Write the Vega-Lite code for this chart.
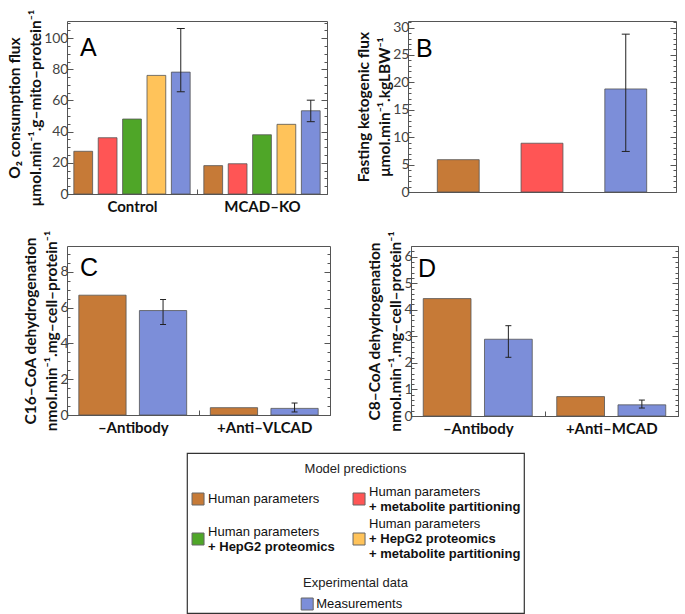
{
  "$schema": "https://vega.github.io/schema/vega-lite/v6.json",
  "padding": {"left": 7, "top": 8, "right": 0, "bottom": 0},
  "background": "white",
  "datasets": {
    "o2": [
      {"condition": "Control", "series": "Human parameters", "value": 27.4},
      {"condition": "Control", "series": "Human parameters + metabolite partitioning", "value": 36.1},
      {"condition": "Control", "series": "Human parameters + HepG2 proteomics", "value": 48.1},
      {"condition": "Control", "series": "Human parameters + HepG2 proteomics + metabolite partitioning", "value": 76.1},
      {"condition": "Control", "series": "Measurements", "value": 78.2, "lo": 65.6, "hi": 106.2},
      {"condition": "MCAD–KO", "series": "Human parameters", "value": 18.2},
      {"condition": "MCAD–KO", "series": "Human parameters + metabolite partitioning", "value": 19.4},
      {"condition": "MCAD–KO", "series": "Human parameters + HepG2 proteomics", "value": 38.0},
      {"condition": "MCAD–KO", "series": "Human parameters + HepG2 proteomics + metabolite partitioning", "value": 44.7},
      {"condition": "MCAD–KO", "series": "Measurements", "value": 53.4, "lo": 46.4, "hi": 60.2}
    ],
    "ketone": [
      {"series": "Human parameters", "value": 5.9},
      {"series": "Human parameters + metabolite partitioning", "value": 8.9},
      {"series": "Measurements", "value": 18.8, "lo": 7.4, "hi": 28.8}
    ],
    "c16": [
      {"condition": "–Antibody", "series": "Human parameters", "value": 6.70},
      {"condition": "–Antibody", "series": "Measurements", "value": 5.84, "lo": 5.06, "hi": 6.46},
      {"condition": "+Anti–VLCAD", "series": "Human parameters", "value": 0.41},
      {"condition": "+Anti–VLCAD", "series": "Measurements", "value": 0.37, "lo": 0.17, "hi": 0.67}
    ],
    "c8": [
      {"condition": "–Antibody", "series": "Human parameters", "value": 4.42},
      {"condition": "–Antibody", "series": "Measurements", "value": 2.89, "lo": 2.21, "hi": 3.40},
      {"condition": "+Anti–MCAD", "series": "Human parameters", "value": 0.73},
      {"condition": "+Anti–MCAD", "series": "Measurements", "value": 0.42, "lo": 0.30, "hi": 0.60}
    ],
    "key": [
      {"entry": "Model predictions", "role": "heading", "row": "h1"},
      {"entry": "Human parameters", "role": "model", "row": "r1", "col": "left", "base": ["Human parameters"], "additions": [""]},
      {"entry": "Human parameters + metabolite partitioning", "role": "model", "row": "r1", "col": "right", "base": ["Human parameters", ""], "additions": ["", "+ metabolite partitioning"]},
      {"entry": "Human parameters + HepG2 proteomics", "role": "model", "row": "r2", "col": "left", "base": ["Human parameters", ""], "additions": ["", "+ HepG2 proteomics"]},
      {"entry": "Human parameters + HepG2 proteomics + metabolite partitioning", "role": "model", "row": "r2", "col": "right", "base": ["Human parameters", "", ""], "additions": ["", "+ HepG2 proteomics", "+ metabolite partitioning"]},
      {"entry": "Experimental data", "role": "heading", "row": "h2"},
      {"entry": "Measurements", "role": "measurement", "row": "r3", "base": ["Measurements"], "additions": [""]}
    ]
  },
  "vconcat": [
    {
      "vconcat": [
        {
          "hconcat": [
            {
              "width": 260, "height": 173,
              "data": {"name": "o2"},
              "title": {"text": "A", "offset": -52, "dx": 13},
              "encoding": {
                "x": {"field": "condition", "type": "nominal", "title": null,
                  "scale": {"domain": ["Control", "MCAD–KO"], "paddingInner": 0, "paddingOuter": 0},
                  "axis": {"tickBand": "extent", "tickSize": -5, "labelPadding": 10}},
                "xOffset": {"field": "series", "type": "nominal",
                  "scale": {"domain": ["Human parameters", "Human parameters + metabolite partitioning", "Human parameters + HepG2 proteomics", "Human parameters + HepG2 proteomics + metabolite partitioning", "Measurements"], "paddingInner": 0.23, "paddingOuter": 0.28}}
              },
              "layer": [
                {
                  "mark": {"type": "bar", "stroke": "#555", "strokeOpacity": 0.8, "strokeWidth": 1},
                  "encoding": {
                    "y": {"field": "value", "type": "quantitative", "scale": {"domain": [0, 111], "nice": false},
                      "axis": {"orient": "left", "title": ["O₂ consumption flux", "μmol.min⁻¹.g–mito–protein⁻¹"],
                        "values": [0, 5, 10, 15, 20, 25, 30, 35, 40, 45, 50, 55, 60, 65, 70, 75, 80, 85, 90, 95, 100, 105, 110],
                        "labelExpr": "datum.value % 20 === 0 ? datum.label : ''",
                        "tickSize": {"condition": {"test": "datum.value % 20 === 0", "value": -6}, "value": -3},
                        "labelPadding": 5}},
                    "color": {"field": "series", "type": "nominal", "legend": null,
                      "scale": {"domain": ["Human parameters", "Human parameters + metabolite partitioning", "Human parameters + HepG2 proteomics", "Human parameters + HepG2 proteomics + metabolite partitioning", "Measurements"],
                        "range": ["#C67A37", "#FF5555", "#4FA628", "#FFC35A", "#7C8ED9"]}}
                  }
                },
                {
                  "transform": [{"filter": "isValid(datum.lo)"}],
                  "mark": {"type": "rule", "color": "#222", "strokeWidth": 1},
                  "encoding": {"y": {"field": "lo", "type": "quantitative", "axis": null}, "y2": {"field": "hi"}}
                },
                {
                  "transform": [{"filter": "isValid(datum.lo)"}],
                  "mark": {"type": "tick", "orient": "horizontal", "size": 8, "thickness": 1, "color": "#222", "opacity": 1},
                  "encoding": {"y": {"field": "lo", "type": "quantitative", "axis": null}}
                },
                {
                  "transform": [{"filter": "isValid(datum.hi)"}],
                  "mark": {"type": "tick", "orient": "horizontal", "size": 8, "thickness": 1, "color": "#222", "opacity": 1},
                  "encoding": {"y": {"field": "hi", "type": "quantitative", "axis": null}}
                },
                {
                  "mark": {"type": "bar", "opacity": 0},
                  "encoding": {
                    "y": {"field": "value", "type": "quantitative",
                      "axis": {"orient": "right", "title": null, "labels": false,
                        "values": [0, 5, 10, 15, 20, 25, 30, 35, 40, 45, 50, 55, 60, 65, 70, 75, 80, 85, 90, 95, 100, 105, 110],
                        "tickSize": {"condition": {"test": "datum.value % 20 === 0", "value": -6}, "value": -3}}}
                  }
                }
              ],
              "resolve": {"axis": {"y": "independent"}}
            },
            {
              "width": 268, "height": 171,
              "data": {"name": "ketone"},
              "title": {"text": "B", "offset": -47, "dx": 8},
              "encoding": {
                "x": {"field": "series", "type": "nominal", "title": null,
                  "scale": {"domain": ["Human parameters", "Human parameters + metabolite partitioning", "Measurements"], "paddingInner": 0.5, "paddingOuter": 0.35},
                  "axis": {"labels": false, "tickSize": -5}}
              },
              "layer": [
                {
                  "mark": {"type": "bar", "stroke": "#555", "strokeOpacity": 0.8, "strokeWidth": 1},
                  "encoding": {
                    "y": {"field": "value", "type": "quantitative", "scale": {"domain": [0, 31.2], "nice": false},
                      "axis": {"orient": "left", "title": ["Fasting ketogenic flux", "μmol.min⁻¹.kgLBW⁻¹"],
                        "values": [0, 1, 2, 3, 4, 5, 6, 7, 8, 9, 10, 11, 12, 13, 14, 15, 16, 17, 18, 19, 20, 21, 22, 23, 24, 25, 26, 27, 28, 29, 30, 31],
                        "labelExpr": "datum.value % 5 === 0 ? datum.label : ''",
                        "tickSize": {"condition": {"test": "datum.value % 5 === 0", "value": -6}, "value": -3},
                        "labelPadding": 5}},
                    "color": {"field": "series", "type": "nominal", "legend": null,
                      "scale": {"domain": ["Human parameters", "Human parameters + metabolite partitioning", "Human parameters + HepG2 proteomics", "Human parameters + HepG2 proteomics + metabolite partitioning", "Measurements"],
                        "range": ["#C67A37", "#FF5555", "#4FA628", "#FFC35A", "#7C8ED9"]}}
                  }
                },
                {
                  "transform": [{"filter": "isValid(datum.lo)"}],
                  "mark": {"type": "rule", "color": "#222", "strokeWidth": 1},
                  "encoding": {"y": {"field": "lo", "type": "quantitative", "axis": null}, "y2": {"field": "hi"}}
                },
                {
                  "transform": [{"filter": "isValid(datum.lo)"}],
                  "mark": {"type": "tick", "orient": "horizontal", "size": 8, "thickness": 1, "color": "#222", "opacity": 1},
                  "encoding": {"y": {"field": "lo", "type": "quantitative", "axis": null}}
                },
                {
                  "transform": [{"filter": "isValid(datum.hi)"}],
                  "mark": {"type": "tick", "orient": "horizontal", "size": 8, "thickness": 1, "color": "#222", "opacity": 1},
                  "encoding": {"y": {"field": "hi", "type": "quantitative", "axis": null}}
                },
                {
                  "mark": {"type": "bar", "opacity": 0},
                  "encoding": {
                    "y": {"field": "value", "type": "quantitative",
                      "axis": {"orient": "right", "title": null, "labels": false,
                        "values": [0, 1, 2, 3, 4, 5, 6, 7, 8, 9, 10, 11, 12, 13, 14, 15, 16, 17, 18, 19, 20, 21, 22, 23, 24, 25, 26, 27, 28, 29, 30, 31],
                        "tickSize": {"condition": {"test": "datum.value % 5 === 0", "value": -6}, "value": -3}}}
                  }
                }
              ],
              "resolve": {"axis": {"y": "independent"}}
            }
          ],
          "spacing": 28,
          "resolve": {"scale": {"xOffset": "independent"}}
        },
        {
          "hconcat": [
            {
              "width": 263, "height": 169,
              "data": {"name": "c16"},
              "title": {"text": "C", "offset": -51, "dx": 13},
              "encoding": {
                "x": {"field": "condition", "type": "nominal", "title": null,
                  "scale": {"domain": ["–Antibody", "+Anti–VLCAD"], "paddingInner": 0, "paddingOuter": 0},
                  "axis": {"tickBand": "extent", "tickSize": -5, "labelPadding": 10}},
                "xOffset": {"field": "series", "type": "nominal",
                  "scale": {"domain": ["Human parameters", "Measurements"], "paddingInner": 0.22, "paddingOuter": 0.195}}
              },
              "layer": [
                {
                  "mark": {"type": "bar", "stroke": "#555", "strokeOpacity": 0.8, "strokeWidth": 1},
                  "encoding": {
                    "y": {"field": "value", "type": "quantitative", "scale": {"domain": [0, 9.45], "nice": false},
                      "axis": {"orient": "left", "title": ["C16–CoA dehydrogenation", "nmol.min⁻¹.mg–cell–protein⁻¹"],
                        "values": [0, 0.5, 1, 1.5, 2, 2.5, 3, 3.5, 4, 4.5, 5, 5.5, 6, 6.5, 7, 7.5, 8, 8.5, 9],
                        "labelExpr": "datum.value % 2 === 0 ? format(datum.value, 'd') : ''",
                        "tickSize": {"condition": {"test": "datum.value % 2 === 0", "value": -6}, "value": -3},
                        "labelPadding": 5}},
                    "color": {"field": "series", "type": "nominal", "legend": null,
                      "scale": {"domain": ["Human parameters", "Human parameters + metabolite partitioning", "Human parameters + HepG2 proteomics", "Human parameters + HepG2 proteomics + metabolite partitioning", "Measurements"],
                        "range": ["#C67A37", "#FF5555", "#4FA628", "#FFC35A", "#7C8ED9"]}}
                  }
                },
                {
                  "transform": [{"filter": "isValid(datum.lo)"}],
                  "mark": {"type": "rule", "color": "#222", "strokeWidth": 1},
                  "encoding": {"y": {"field": "lo", "type": "quantitative", "axis": null}, "y2": {"field": "hi"}}
                },
                {
                  "transform": [{"filter": "isValid(datum.lo)"}],
                  "mark": {"type": "tick", "orient": "horizontal", "size": 6, "thickness": 1, "color": "#222", "opacity": 1},
                  "encoding": {"y": {"field": "lo", "type": "quantitative", "axis": null}}
                },
                {
                  "transform": [{"filter": "isValid(datum.hi)"}],
                  "mark": {"type": "tick", "orient": "horizontal", "size": 6, "thickness": 1, "color": "#222", "opacity": 1},
                  "encoding": {"y": {"field": "hi", "type": "quantitative", "axis": null}}
                },
                {
                  "mark": {"type": "bar", "opacity": 0},
                  "encoding": {
                    "y": {"field": "value", "type": "quantitative",
                      "axis": {"orient": "right", "title": null, "labels": false,
                        "values": [0, 0.5, 1, 1.5, 2, 2.5, 3, 3.5, 4, 4.5, 5, 5.5, 6, 6.5, 7, 7.5, 8, 8.5, 9],
                        "tickSize": {"condition": {"test": "datum.value % 2 === 0", "value": -6}, "value": -3}}}
                  }
                }
              ],
              "resolve": {"axis": {"y": "independent"}}
            },
            {
              "width": 267, "height": 170,
              "data": {"name": "c8"},
              "title": {"text": "D", "offset": -51, "dx": 7},
              "encoding": {
                "x": {"field": "condition", "type": "nominal", "title": null,
                  "scale": {"domain": ["–Antibody", "+Anti–MCAD"], "paddingInner": 0, "paddingOuter": 0},
                  "axis": {"tickBand": "extent", "tickSize": -5, "labelPadding": 10}},
                "xOffset": {"field": "series", "type": "nominal",
                  "scale": {"domain": ["Human parameters", "Measurements"], "paddingInner": 0.22, "paddingOuter": 0.2}}
              },
              "layer": [
                {
                  "mark": {"type": "bar", "stroke": "#555", "strokeOpacity": 0.8, "strokeWidth": 1},
                  "encoding": {
                    "y": {"field": "value", "type": "quantitative", "scale": {"domain": [0, 6.4], "nice": false},
                      "axis": {"orient": "left", "title": ["C8–CoA dehydrogenation", "nmol.min⁻¹.mg–cell–protein⁻¹"],
                        "values": [0, 0.2, 0.4, 0.6, 0.8, 1, 1.2, 1.4, 1.6, 1.8, 2, 2.2, 2.4, 2.6, 2.8, 3, 3.2, 3.4, 3.6, 3.8, 4, 4.2, 4.4, 4.6, 4.8, 5, 5.2, 5.4, 5.6, 5.8, 6, 6.2, 6.4],
                        "labelExpr": "datum.value % 1 === 0 ? format(datum.value, 'd') : ''",
                        "tickSize": {"condition": {"test": "datum.value % 1 === 0", "value": -6}, "value": -3},
                        "labelPadding": 5}},
                    "color": {"field": "series", "type": "nominal", "legend": null,
                      "scale": {"domain": ["Human parameters", "Human parameters + metabolite partitioning", "Human parameters + HepG2 proteomics", "Human parameters + HepG2 proteomics + metabolite partitioning", "Measurements"],
                        "range": ["#C67A37", "#FF5555", "#4FA628", "#FFC35A", "#7C8ED9"]}}
                  }
                },
                {
                  "transform": [{"filter": "isValid(datum.lo)"}],
                  "mark": {"type": "rule", "color": "#222", "strokeWidth": 1},
                  "encoding": {"y": {"field": "lo", "type": "quantitative", "axis": null}, "y2": {"field": "hi"}}
                },
                {
                  "transform": [{"filter": "isValid(datum.lo)"}],
                  "mark": {"type": "tick", "orient": "horizontal", "size": 6, "thickness": 1, "color": "#222", "opacity": 1},
                  "encoding": {"y": {"field": "lo", "type": "quantitative", "axis": null}}
                },
                {
                  "transform": [{"filter": "isValid(datum.hi)"}],
                  "mark": {"type": "tick", "orient": "horizontal", "size": 6, "thickness": 1, "color": "#222", "opacity": 1},
                  "encoding": {"y": {"field": "hi", "type": "quantitative", "axis": null}}
                },
                {
                  "mark": {"type": "bar", "opacity": 0},
                  "encoding": {
                    "y": {"field": "value", "type": "quantitative",
                      "axis": {"orient": "right", "title": null, "labels": false,
                        "values": [0, 0.2, 0.4, 0.6, 0.8, 1, 1.2, 1.4, 1.6, 1.8, 2, 2.2, 2.4, 2.6, 2.8, 3, 3.2, 3.4, 3.6, 3.8, 4, 4.2, 4.4, 4.6, 4.8, 5, 5.2, 5.4, 5.6, 5.8, 6, 6.2, 6.4],
                        "tickSize": {"condition": {"test": "datum.value % 1 === 0", "value": -6}, "value": -3}}}
                  }
                }
              ],
              "resolve": {"axis": {"y": "independent"}}
            }
          ],
          "spacing": 36,
          "resolve": {"scale": {"xOffset": "independent"}}
        }
      ],
      "spacing": 14,
      "resolve": {"scale": {"xOffset": "independent"}}
    },
    {
      "hconcat": [
        {
          "width": 1, "height": 1,
          "data": {"values": []},
          "mark": "rule",
          "encoding": {},
          "view": {"stroke": null}
        },
        {
          "width": 337, "height": 160,
          "view": {"stroke": "#333", "strokeWidth": 1.2},
          "data": {"name": "key"},
          "encoding": {
            "y": {"field": "row", "type": "ordinal", "scale": {"type": "point", "domain": ["h1", "r1", "r2", "h2", "r3"], "padding": 0}, "axis": null}
          },
          "layer": [
            {
              "transform": [{"filter": "datum.row === 'h1'"}],
              "mark": {"type": "text", "font": "Liberation Sans", "fontSize": 13, "color": "#222", "align": "center", "baseline": "middle", "dy": 16},
              "encoding": {
                "x": {"datum": "right", "bandPosition": 0, "scale": {"type": "band", "domain": ["left", "right"], "paddingInner": 0, "paddingOuter": 0.0466}, "axis": null},
                "text": {"field": "entry"}
              }
            },
            {
              "transform": [{"filter": "datum.row === 'h2'"}],
              "mark": {"type": "text", "font": "Liberation Sans", "fontSize": 13, "color": "#222", "align": "center", "baseline": "middle", "dy": 10},
              "encoding": {
                "x": {"datum": "right", "bandPosition": 0, "axis": null},
                "text": {"field": "entry"}
              }
            },
            {
              "transform": [{"filter": "datum.role === 'model'"}],
              "mark": {"type": "square", "size": 144, "filled": true, "opacity": 1, "stroke": "#666", "strokeWidth": 1, "yOffset": 6},
              "encoding": {
                "x": {"field": "col", "type": "nominal", "bandPosition": 0.022, "axis": null},
                "color": {"field": "entry", "type": "nominal", "legend": null,
                  "scale": {"domain": ["Human parameters", "Human parameters + metabolite partitioning", "Human parameters + HepG2 proteomics", "Human parameters + HepG2 proteomics + metabolite partitioning", "Measurements"],
                    "range": ["#C67A37", "#FF5555", "#4FA628", "#FFC35A", "#7C8ED9"]}}
              }
            },
            {
              "transform": [{"filter": "datum.role === 'model' && length(datum.base) === 1"}],
              "mark": {"type": "text", "font": "Liberation Sans", "fontSize": 13, "lineHeight": 15, "color": "#111", "align": "left", "baseline": "middle", "dx": 10, "dy": 6},
              "encoding": {
                "x": {"field": "col", "type": "nominal", "bandPosition": 0.022, "axis": null},
                "text": {"field": "base"}
              }
            },
            {
              "transform": [{"filter": "datum.role === 'model' && length(datum.base) === 2"}],
              "mark": {"type": "text", "font": "Liberation Sans", "fontSize": 13, "lineHeight": 15, "color": "#111", "align": "left", "baseline": "middle", "dx": 10, "dy": -1.5},
              "encoding": {
                "x": {"field": "col", "type": "nominal", "bandPosition": 0.022, "axis": null},
                "text": {"field": "base"}
              }
            },
            {
              "transform": [{"filter": "datum.role === 'model' && length(datum.base) === 2"}],
              "mark": {"type": "text", "font": "Liberation Sans", "fontSize": 13, "lineHeight": 15, "fontWeight": "bold", "color": "#111", "align": "left", "baseline": "middle", "dx": 10, "dy": -1.5},
              "encoding": {
                "x": {"field": "col", "type": "nominal", "bandPosition": 0.022, "axis": null},
                "text": {"field": "additions"}
              }
            },
            {
              "transform": [{"filter": "datum.role === 'model' && length(datum.base) === 3"}],
              "mark": {"type": "text", "font": "Liberation Sans", "fontSize": 13, "lineHeight": 15, "color": "#111", "align": "left", "baseline": "middle", "dx": 10, "dy": -9},
              "encoding": {
                "x": {"field": "col", "type": "nominal", "bandPosition": 0.022, "axis": null},
                "text": {"field": "base"}
              }
            },
            {
              "transform": [{"filter": "datum.role === 'model' && length(datum.base) === 3"}],
              "mark": {"type": "text", "font": "Liberation Sans", "fontSize": 13, "lineHeight": 15, "fontWeight": "bold", "color": "#111", "align": "left", "baseline": "middle", "dx": 10, "dy": -9},
              "encoding": {
                "x": {"field": "col", "type": "nominal", "bandPosition": 0.022, "axis": null},
                "text": {"field": "additions"}
              }
            },
            {
              "transform": [{"filter": "datum.role === 'measurement'"}],
              "mark": {"type": "square", "size": 144, "filled": true, "opacity": 1, "stroke": "#666", "strokeWidth": 1, "yOffset": -9},
              "encoding": {
                "x": {"datum": "left", "bandPosition": 0.7, "axis": null},
                "color": {"field": "entry", "type": "nominal", "legend": null,
                  "scale": {"domain": ["Human parameters", "Human parameters + metabolite partitioning", "Human parameters + HepG2 proteomics", "Human parameters + HepG2 proteomics + metabolite partitioning", "Measurements"],
                    "range": ["#C67A37", "#FF5555", "#4FA628", "#FFC35A", "#7C8ED9"]}}
              }
            },
            {
              "transform": [{"filter": "datum.role === 'measurement'"}],
              "mark": {"type": "text", "font": "Liberation Sans", "fontSize": 13, "color": "#111", "align": "left", "baseline": "middle", "dx": 9, "dy": -9},
              "encoding": {
                "x": {"datum": "left", "bandPosition": 0.7, "axis": null},
                "text": {"field": "base"}
              }
            }
          ]
        }
      ],
      "spacing": 118
    }
  ],
  "spacing": 15,
  "resolve": {"scale": {"xOffset": "independent"}},
  "config": {
    "view": {"stroke": "#555", "strokeWidth": 1},
    "font": "Lato",
    "axis": {"domain": false, "grid": false, "tickColor": "#555", "tickWidth": 1, "labelColor": "#444", "labelFontSize": 14, "labelFont": "Lato",
      "titleFont": "Lato", "titleFontSize": 15.5, "titleFontWeight": "bold", "titleColor": "#111", "titleLineHeight": 21, "labelOverlap": false, "titlePadding": 0},
    "axisX": {"labelFontWeight": "bold", "labelColor": "#111", "labelAngle": 0, "labelFontSize": 15},
    "title": {"anchor": "start", "frame": "group", "fontSize": 25, "fontWeight": "normal", "font": "Liberation Sans", "color": "#000", "baseline": "top"}
  }
}
